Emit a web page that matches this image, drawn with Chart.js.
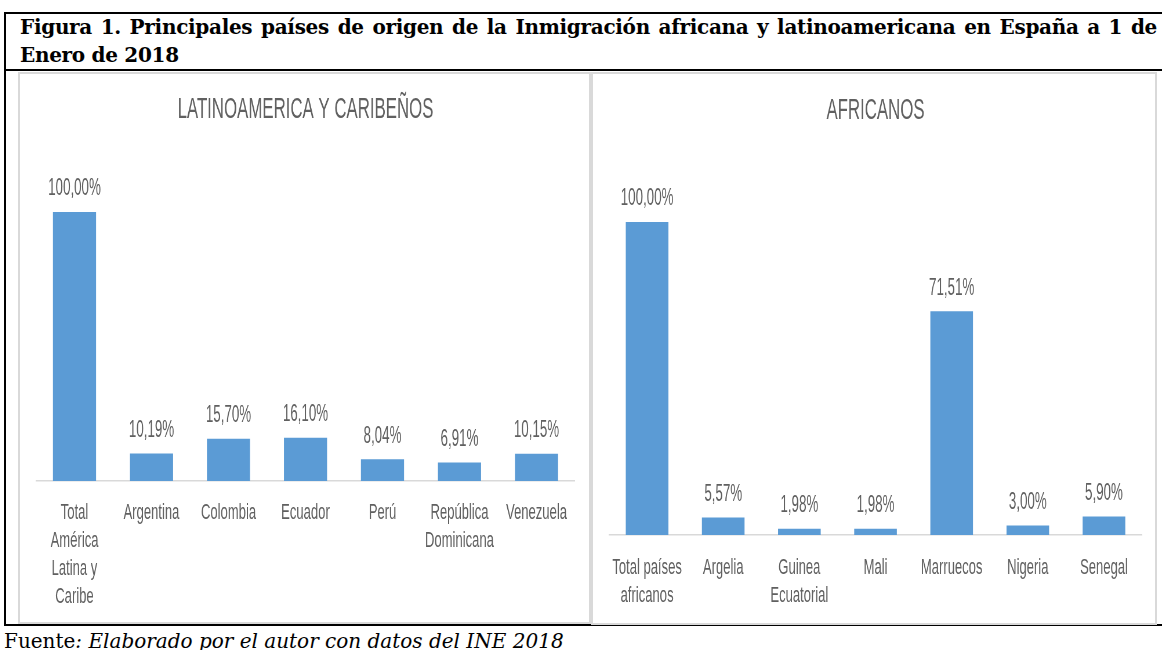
<!DOCTYPE html>
<html>
<head>
<meta charset="utf-8">
<script src="https://cdn.jsdelivr.net/npm/chart.js@4/dist/chart.umd.min.js"></script>
<style>
   html, body { margin: 0; padding: 0; background: #fff; }
   body { width: 1162px; height: 650px; position: relative; overflow: hidden; }
   .frame { position: absolute; left: 4px; top: 12px; width: 1170px; height: 614px; border: 2px solid #000; border-right: none; box-sizing: border-box; }
   .rule { position: absolute; left: 4px; top: 69px; width: 1170px; height: 2px; background: #000; }
   .caption { position: absolute; left: 20px; top: 13px; width: 1137px; font: bold 20px "DejaVu Serif", serif; letter-spacing: -0.3px; line-height: 28px; color: #000; }
   .caption .l1 { text-align: justify; text-align-last: justify; white-space: nowrap; }
   .panel { position: absolute; border: 2px solid #d9d9d9; box-sizing: border-box; background: #fff; overflow: hidden; }
   /* the original picture is squeezed sideways: draw wide, then squeeze */
   .panel canvas { display: block; transform: scaleX(0.58); transform-origin: 0 0; }
   #pLat { left: 18px; top: 72px; width: 573px; height: 552px; }
   #pAfr { left: 591px; top: 72px; width: 566px; height: 553px; }
   .source { position: absolute; left: 4px; top: 629px; font: 20px "DejaVu Serif", serif; color: #000; white-space: nowrap; }
</style>
</head>
<body>
<div class="frame"></div>
<div class="rule"></div>
<div class="caption">
   <div class="l1">Figura 1. Principales países de origen de la Inmigración africana y latinoamericana en España a 1 de</div>
   <div>Enero de 2018</div>
</div>
<div class="panel" id="pLat"><canvas id="cLat" width="981" height="548"></canvas></div>
<div class="panel" id="pAfr"><canvas id="cAfr" width="969" height="549"></canvas></div>
<div class="source">Fuente<i>: Elaborado por el autor con datos del INE 2018</i></div>

<script>
// data
const latTitle = 'LATINOAMERICA Y CARIBEÑOS';
const latCategories = [['Total', 'América', 'Latina y', 'Caribe'], 'Argentina', 'Colombia', 'Ecuador', 'Perú', ['República', 'Dominicana'], 'Venezuela'];
const latValues = [100.00, 10.19, 15.70, 16.10, 8.04, 6.91, 10.15];

const afrTitle = 'AFRICANOS';
const afrCategories = [['Total países', 'africanos'], 'Argelia', ['Guinea', 'Ecuatorial'], 'Mali', 'Marruecos', 'Nigeria', 'Senegal'];
const afrValues = [100.00, 5.57, 1.98, 1.98, 71.51, 3.00, 5.90];

const SQ = 0.58; // horizontal squeeze, same as the css
const FONT = '"Liberation Sans", Arial, sans-serif';
const GREY = '#606060';
const BLUE = '#5b9bd5';

// draws "12,34%" above each bar
const valueLabels = {
   id: 'valueLabels',
   afterDatasetsDraw(chart) {
      const ctx = chart.ctx;
      ctx.save();
      ctx.font = '23px ' + FONT;
      ctx.fillStyle = GREY;
      ctx.textAlign = 'center';
      ctx.textBaseline = 'middle';
      const ds = chart.data.datasets[0];
      chart.getDatasetMeta(0).data.forEach((bar, i) => {
         ctx.fillText(ds.data[i].toFixed(2).replace('.', ',') + '%', bar.x, bar.y - 23);
      });
      ctx.restore();
   }
};

function makeChart(canvasId, title, categories, values, pad, axisHeight, tickPad) {
   return new Chart(document.getElementById(canvasId), {
      type: 'bar',
      data: {
         labels: categories,
         datasets: [{
            data: values,
            backgroundColor: BLUE,
            borderWidth: 0,
            barPercentage: 0.56,
            categoryPercentage: 1
         }]
      },
      options: {
         responsive: false,
         animation: false,
         layout: { padding: { left: pad.left / SQ, right: pad.right / SQ, top: 0, bottom: 0 } },
         scales: {
            x: {
               grid: { display: false, drawTicks: false },
               border: { display: true, color: '#d9d9d9', width: 1.5 },
               ticks: {
                  color: GREY,
                  font: { family: FONT, size: 22.5, lineHeight: 28 / 22.5 },
                  padding: tickPad,
                  maxRotation: 0,
                  autoSkip: false
               },
               afterFit: scale => { scale.height = axisHeight; }
            },
            y: { display: false, min: 0, max: 100 }
         },
         plugins: {
            legend: { display: false },
            tooltip: { enabled: false },
            title: {
               display: true,
               text: title,
               color: GREY,
               font: { family: FONT, size: 29, weight: 'normal', lineHeight: 1.2 },
               padding: { top: pad.titleTop, bottom: pad.titleBottom }
            }
         }
      },
      plugins: [valueLabels]
   });
}

makeChart('cLat', latTitle, latCategories, latValues,
   { left: 16, right: 14, titleTop: 18.6, titleBottom: 84.6 }, 141, 18);
makeChart('cAfr', afrTitle, afrCategories, afrValues,
   { left: 16, right: 13, titleTop: 19.6, titleBottom: 93.6 }, 88, 19);
</script>
</body>
</html>
